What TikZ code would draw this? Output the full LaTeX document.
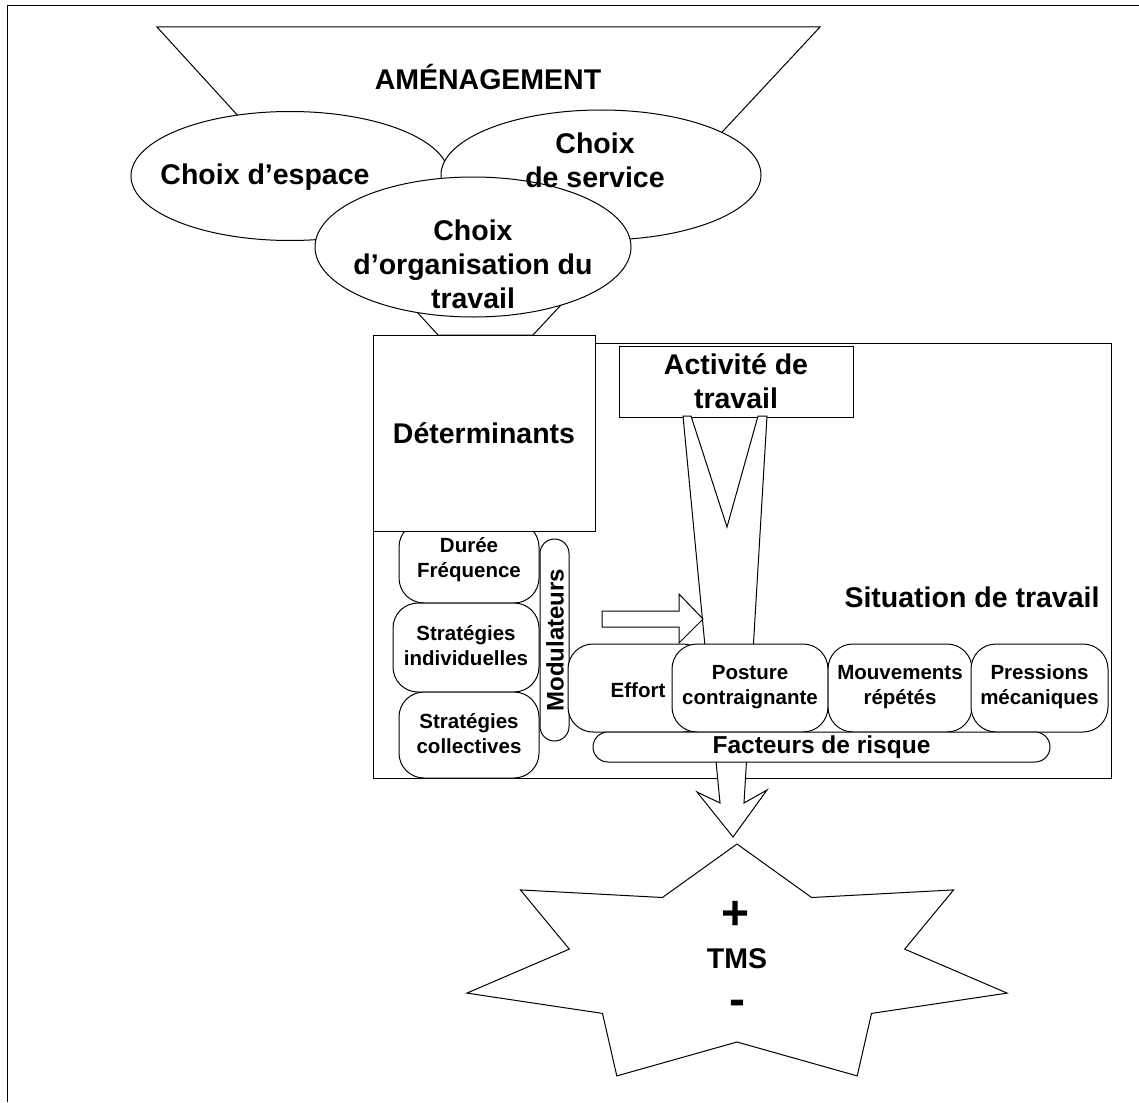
\documentclass[tikz,border=0pt]{standalone}
\usepackage{fontspec}
\setmainfont{Liberation Sans}
\usetikzlibrary{shapes.geometric}
\begin{document}
\begin{tikzpicture}[x=1pt,y=-1pt,line width=1pt,
  big/.style={font=\fontsize{28.5}{34}\selectfont\bfseries, align=center, inner sep=0pt},
  mid/.style={font=\fontsize{24.5}{29}\selectfont\bfseries, align=center, inner sep=0pt},
  small/.style={font=\fontsize{20.5}{25}\selectfont\bfseries, align=center, inner sep=0pt},
  sign/.style={font=\fontsize{48}{50}\selectfont\bfseries, inner sep=0pt},
  outl/.style={draw, fill=white},
  boxr/.style={draw, fill=white, rectangle, inner sep=0pt},
  pill/.style={draw, fill=white, rectangle, rounded corners=25pt, inner sep=0pt},
  ell/.style={draw, fill=white, ellipse, inner sep=0pt}
]
\useasboundingbox (0,0) rectangle (1139,1102);
% page frame (top and left)
\draw (1139,6) -- (7,6) -- (7,1102);
% funnel
\draw[outl] (157,27) -- (820,27) -- (533,335) -- (438,335) -- cycle;
% ellipses
\node[ell, minimum width=318, minimum height=129] (esp) at (290,176) {};
\node[ell, minimum width=320, minimum height=130] (serv) at (601,175) {};
\node[ell, minimum width=316, minimum height=140] (org) at (473,247) {};
% situation box
\node[boxr, minimum width=738, minimum height=435] (sit) at (742,560.5) {};
% left pill under determinants
\node[pill, minimum width=140, minimum height=81] (duree) at (469,562.5) {};
% determinants
\node[boxr, minimum width=222, minimum height=196] (det) at (484,433) {};
% activite box
\node[boxr, minimum width=234, minimum height=71] (act) at (736,381.5) {};
% activity arrow (notched, tapering)
\draw[outl] (683,416) -- (691,416) -- (727,527) -- (758,416) -- (767,416)
  -- (744,803) -- (767,790) -- (733,837) -- (697,792) -- (720,803) -- cycle;
% horizontal block arrow
\draw[outl] (602,611) -- (679,611) -- (679,594) -- (703,619) -- (679,643)
  -- (679,627) -- (602,627) -- cycle;
% strategies
\node[pill, minimum width=146, minimum height=89] (stri) at (466,647.5) {};
\node[pill, minimum width=140, minimum height=86] (strc) at (469,735) {};
% modulateurs
\node[pill, rounded corners=14.5pt, minimum width=29, minimum height=202] (modul) at (554.5,640) {};
% risk factors
\node[pill, minimum width=140, minimum height=88] (effort) at (638,688) {};
\node[pill, minimum width=156, minimum height=88] (post) at (750,688) {};
\node[pill, minimum width=144, minimum height=88] (mouv) at (900,688) {};
\node[pill, minimum width=137, minimum height=88] (press) at (1039.5,688) {};
\node[pill, rounded corners=15pt, minimum width=457, minimum height=30] (fact) at (821.5,747) {};
% TMS star
\draw[outl] (737,844) -- (811.6,897.5) -- (953.6,889.9) -- (904.7,949.1) -- (1007.1,993.1)
  -- (871.5,1013.4) -- (857.2,1075.9) -- (737,1042) -- (616.8,1075.9) -- (602.5,1013.4)
  -- (466.9,993.1) -- (569.3,949.1) -- (520.4,889.9) -- (662.4,897.5) -- cycle;
% ---- texts on top ----
\node[big] (amen) at (488,77) {AMÉNAGEMENT};
\node[big] (tesp) at (265,177) {Choix d’espace};
\node[big] (tserv) at (595,160) {Choix\\de service};
\node[big] (torg) at (473,264) {Choix\\d’organisation du\\travail};
\node[big] (tsit) at (972,597) {Situation de travail};
\node[big] (tdet) at (484,433) {Déterminants};
\node[big] (tact) at (736,381) {Activité de\\travail};
\node[small] (tduree) at (469,560) {Durée\\Fréquence};
\node[small] (tstri) at (466,646) {Stratégies\\individuelles};
\node[small] (tstrc) at (469,734) {Stratégies\\collectives};
\node[font=\fontsize{24}{28}\selectfont\bfseries, inner sep=0pt, rotate=90] (tmod) at (555,640) {Modulateurs};
\node[small] (teffort) at (638,690) {Effort};
\node[small] (tpost) at (750,687) {Posture\\contraignante};
\node[small] (tmouv) at (900,687) {Mouvements\\répétés};
\node[small] (tpress) at (1039.5,687) {Pressions\\mécaniques};
\node[mid] (tfact) at (821.5,747) {Facteurs de risque};
\node[sign] (plus) at (736,915) {+};
\node[big] (tms) at (737,959) {TMS};
\node[sign] (minus) at (737,1008) {-};
\end{tikzpicture}
\end{document}
